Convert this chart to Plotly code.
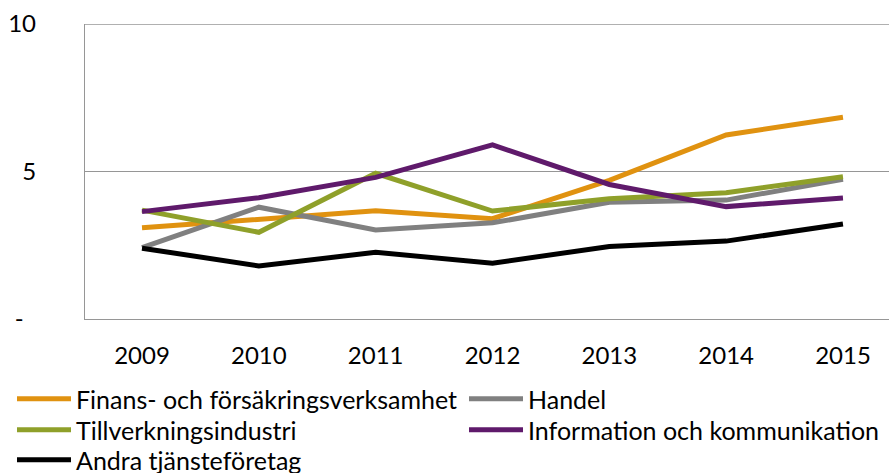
import plotly.graph_objects as go

years = ["2009", "2010", "2011", "2012", "2013", "2014", "2015"]
finans = [3.09, 3.40, 3.67, 3.40, 4.70, 6.24, 6.84]
handel = [2.42, 3.79, 3.02, 3.26, 3.96, 4.03, 4.74]
tillverkning = [3.69, 2.94, 4.94, 3.66, 4.08, 4.28, 4.82]
information = [3.64, 4.11, 4.80, 5.90, 4.56, 3.81, 4.10]
andra = [2.40, 1.80, 2.26, 1.89, 2.46, 2.64, 3.22]

y_tickvals = [0, 5, 10]
y_ticktext = ["-\u00a0\u00a0", "5", "10"]

series = [
    ("Finans- och försäkringsverksamhet", finans, "#E09210"),
    ("Handel", handel, "#808080"),
    ("Tillverkningsindustri", tillverkning, "#8FA02A"),
    ("Information och kommunikation", information, "#5F1A6B"),
    ("Andra tjänsteföretag", andra, "#000000"),
]
# legend slot for each series: (x of line start, y of row centre) in pixels
legend_slots = [(18, 399), (470, 399), (18, 430), (470, 430), (18, 460)]

FONT = "Lato, Calibri, 'Open Sans', sans-serif"
W, H = 889, 473

fig = go.Figure()
layout_legends = {}
for i, ((name, vals, col), (lx, ly)) in enumerate(zip(series, legend_slots)):
    key = "legend" if i == 0 else f"legend{i + 1}"
    fig.add_trace(go.Scatter(
        x=years, y=vals, name=name, mode="lines",
        line=dict(color=col, width=5), legend=key,
    ))
    layout_legends[key] = dict(
        orientation="v", xref="container", yref="container",
        x=(lx - 6) / W, xanchor="left", y=1 - ly / H, yanchor="middle",
        font=dict(size=25, family=FONT), itemwidth=54,
        bgcolor="rgba(0,0,0,0)", borderwidth=0,
    )

fig.update_layout(
    width=W, height=H,
    margin=dict(l=85, r=0, t=24, b=154, autoexpand=False),
    paper_bgcolor="white", plot_bgcolor="white",
    font=dict(family=FONT, size=24, color="#000000"),
    showlegend=True,
    xaxis=dict(
        type="category", range=[-0.488, 6.394],
        showgrid=False, showline=True, linecolor="#969696", linewidth=1.3,
        ticks="", ticklabelstandoff=15, zeroline=False,
        tickfont=dict(size=24),
    ),
    yaxis=dict(
        range=[0, 10], tickvals=y_tickvals, ticktext=y_ticktext,
        showgrid=True, gridcolor="#969696", gridwidth=1.3,
        showline=True, linecolor="#969696", linewidth=1.3,
        zeroline=False, ticks="", ticklabelstandoff=43,
        tickfont=dict(size=24),
    ),
    shapes=[dict(type="line", xref="paper", yref="y", x0=0, x1=1, y0=10, y1=10,
                 line=dict(color="#969696", width=1.3), layer="below")],
    **layout_legends,
)

fig.write_html("out.html", config={"displayModeBar": False},
               post_script="document.body.style.margin='0';")
